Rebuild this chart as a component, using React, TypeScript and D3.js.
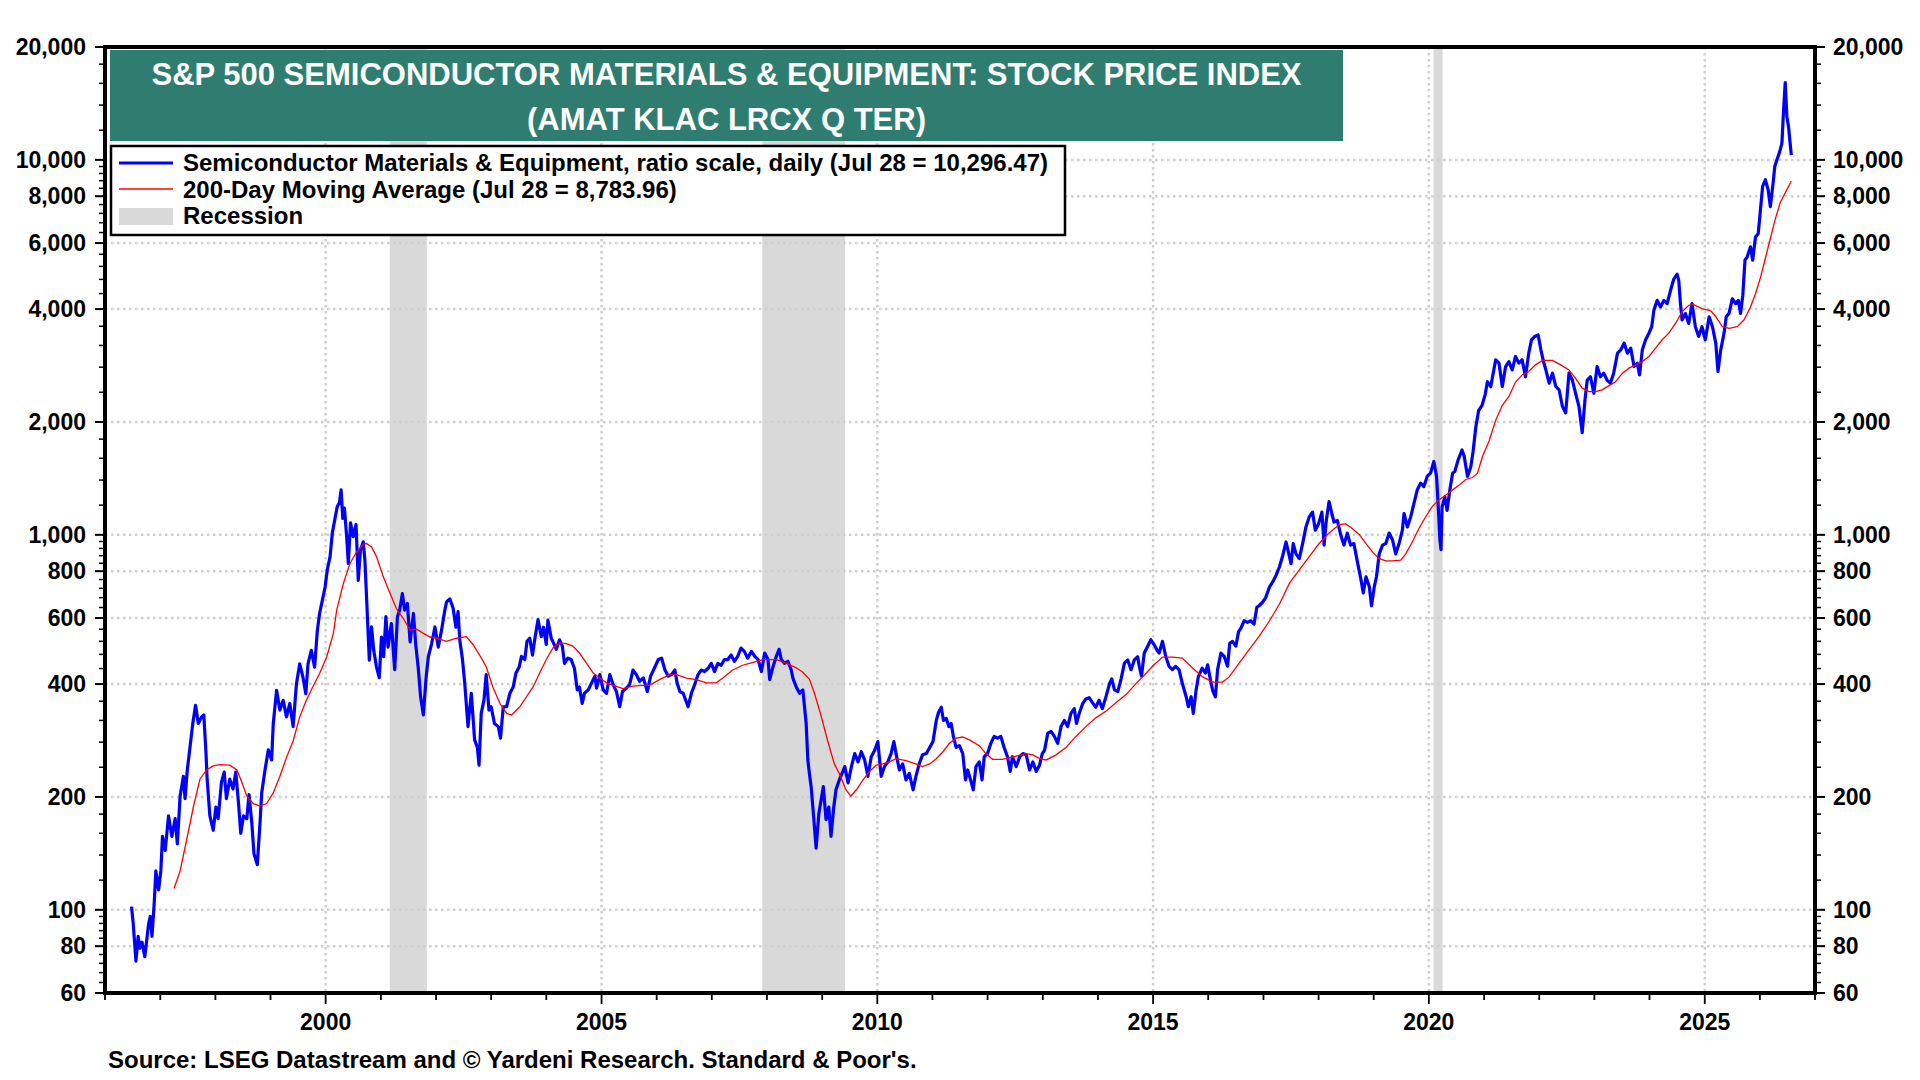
import * as d3 from "d3";

// S&P 500 Semiconductor Materials & Equipment, daily index [decimal year, value]
const priceSeries: [number, number][] = [
  [1996.48, 102], [1996.51, 92], [1996.56, 73], [1996.6, 85], [1996.63, 79], [1996.67, 82], [1996.72, 75],
  [1996.79, 92], [1996.82, 96], [1996.85, 85], [1996.89, 104], [1996.92, 127], [1996.97, 113], [1997.01, 127],
  [1997.04, 157], [1997.09, 144], [1997.15, 178], [1997.21, 157], [1997.27, 175], [1997.31, 150], [1997.36, 201],
  [1997.42, 227], [1997.45, 198], [1997.49, 236], [1997.54, 272], [1997.59, 314], [1997.64, 351], [1997.69, 314],
  [1997.75, 327], [1997.79, 331], [1997.83, 261], [1997.85, 223], [1997.9, 178], [1997.96, 163], [1998.01, 188],
  [1998.05, 175], [1998.11, 219], [1998.16, 233], [1998.2, 198], [1998.26, 223], [1998.32, 210], [1998.37, 233],
  [1998.42, 192], [1998.46, 160], [1998.51, 178], [1998.57, 175], [1998.61, 203], [1998.66, 171], [1998.7, 141],
  [1998.76, 132], [1998.81, 171], [1998.84, 205], [1998.9, 236], [1998.96, 267], [1999.02, 251], [1999.05, 314],
  [1999.11, 385], [1999.17, 341], [1999.23, 362], [1999.29, 327], [1999.35, 355], [1999.41, 308], [1999.47, 400],
  [1999.53, 453], [1999.59, 416], [1999.64, 377], [1999.68, 453], [1999.74, 492], [1999.8, 444], [1999.85, 557],
  [1999.89, 617], [1999.94, 669], [1999.99, 726], [2000.03, 807], [2000.08, 875], [2000.12, 1010], [2000.17, 1107],
  [2000.21, 1189], [2000.25, 1220], [2000.28, 1318], [2000.31, 1107], [2000.34, 1178], [2000.38, 989], [2000.41, 839],
  [2000.45, 1077], [2000.5, 989], [2000.55, 1066], [2000.59, 756], [2000.63, 910], [2000.68, 958], [2000.71, 856],
  [2000.74, 682], [2000.79, 463], [2000.83, 568], [2000.87, 492], [2000.92, 444], [2000.97, 416], [2001.01, 534],
  [2001.05, 473], [2001.09, 605], [2001.13, 502], [2001.19, 580], [2001.25, 437], [2001.3, 605], [2001.34, 630],
  [2001.39, 697], [2001.43, 630], [2001.48, 656], [2001.53, 518], [2001.59, 617], [2001.63, 513], [2001.68, 437],
  [2001.72, 370], [2001.77, 331], [2001.82, 416], [2001.86, 473], [2001.92, 513], [2001.98, 568], [2002.04, 502],
  [2002.1, 557], [2002.16, 630], [2002.19, 662], [2002.25, 675], [2002.31, 637], [2002.36, 567], [2002.4, 624],
  [2002.43, 525], [2002.48, 465], [2002.52, 403], [2002.58, 308], [2002.64, 378], [2002.7, 284], [2002.75, 271],
  [2002.78, 243], [2002.82, 334], [2002.87, 363], [2002.91, 424], [2002.96, 341], [2003.0, 348], [2003.06, 314],
  [2003.13, 308], [2003.17, 287], [2003.22, 348], [2003.28, 348], [2003.34, 378], [2003.4, 393], [2003.45, 428],
  [2003.51, 445], [2003.55, 474], [2003.61, 465], [2003.65, 520], [2003.7, 530], [2003.75, 478], [2003.79, 525],
  [2003.85, 594], [2003.91, 535], [2003.95, 567], [2004.0, 510], [2004.03, 592], [2004.09, 530], [2004.13, 515],
  [2004.18, 495], [2004.24, 525], [2004.29, 505], [2004.33, 454], [2004.39, 469], [2004.45, 465], [2004.51, 440],
  [2004.56, 386], [2004.6, 393], [2004.65, 355], [2004.69, 378], [2004.76, 386], [2004.82, 403], [2004.88, 420],
  [2004.91, 390], [2004.97, 424], [2005.03, 386], [2005.09, 378], [2005.15, 424], [2005.21, 399], [2005.27, 382],
  [2005.33, 348], [2005.38, 382], [2005.45, 390], [2005.51, 399], [2005.57, 436], [2005.63, 424], [2005.69, 407],
  [2005.76, 415], [2005.83, 382], [2005.89, 420], [2005.97, 445], [2006.03, 465], [2006.09, 469], [2006.15, 436],
  [2006.21, 420], [2006.27, 424], [2006.33, 436], [2006.37, 403], [2006.42, 382], [2006.48, 378], [2006.57, 348],
  [2006.63, 378], [2006.69, 399], [2006.75, 424], [2006.81, 436], [2006.87, 432], [2006.93, 440], [2006.99, 454],
  [2007.05, 432], [2007.11, 454], [2007.17, 449], [2007.23, 465], [2007.29, 465], [2007.35, 478], [2007.41, 460],
  [2007.47, 474], [2007.53, 499], [2007.59, 489], [2007.65, 469], [2007.72, 489], [2007.78, 474], [2007.84, 465],
  [2007.9, 432], [2007.96, 484], [2008.02, 465], [2008.05, 411], [2008.11, 445], [2008.17, 474], [2008.22, 495],
  [2008.26, 465], [2008.32, 454], [2008.38, 460], [2008.44, 436], [2008.47, 415], [2008.53, 393], [2008.59, 378],
  [2008.65, 386], [2008.71, 314], [2008.74, 251], [2008.77, 230], [2008.8, 213], [2008.84, 181], [2008.89, 146],
  [2008.94, 181], [2008.98, 196], [2009.02, 213], [2009.07, 174], [2009.12, 188], [2009.16, 157], [2009.21, 188],
  [2009.25, 209], [2009.31, 222], [2009.36, 231], [2009.41, 241], [2009.47, 218], [2009.53, 241], [2009.59, 261],
  [2009.65, 248], [2009.71, 264], [2009.77, 251], [2009.83, 227], [2009.89, 256], [2009.95, 266], [2010.01, 281],
  [2010.07, 227], [2010.13, 241], [2010.19, 248], [2010.25, 261], [2010.3, 281], [2010.34, 261], [2010.4, 236],
  [2010.46, 245], [2010.52, 222], [2010.58, 231], [2010.65, 209], [2010.7, 227], [2010.76, 245], [2010.82, 259],
  [2010.89, 261], [2010.95, 271], [2011.01, 281], [2011.07, 320], [2011.11, 336], [2011.16, 347], [2011.2, 320],
  [2011.25, 324], [2011.3, 308], [2011.34, 314], [2011.38, 290], [2011.43, 271], [2011.49, 274], [2011.55, 261],
  [2011.6, 222], [2011.64, 236], [2011.7, 220], [2011.74, 209], [2011.79, 241], [2011.85, 248], [2011.9, 222],
  [2011.94, 256], [2012.0, 261], [2012.06, 278], [2012.12, 290], [2012.18, 287], [2012.24, 290], [2012.3, 271],
  [2012.36, 256], [2012.41, 234], [2012.45, 256], [2012.52, 241], [2012.58, 256], [2012.64, 261], [2012.7, 259],
  [2012.76, 236], [2012.82, 248], [2012.88, 234], [2012.94, 243], [2012.99, 261], [2013.03, 266], [2013.09, 296],
  [2013.15, 299], [2013.21, 290], [2013.27, 278], [2013.33, 308], [2013.39, 320], [2013.45, 308], [2013.51, 334],
  [2013.57, 344], [2013.61, 314], [2013.66, 334], [2013.72, 354], [2013.78, 365], [2013.84, 368], [2013.9, 357],
  [2013.96, 347], [2014.02, 362], [2014.08, 344], [2014.15, 372], [2014.21, 401], [2014.25, 413], [2014.3, 386],
  [2014.36, 382], [2014.42, 413], [2014.48, 455], [2014.54, 464], [2014.6, 437], [2014.66, 464], [2014.72, 473],
  [2014.75, 446], [2014.79, 420], [2014.84, 484], [2014.9, 504], [2014.96, 525], [2015.02, 509], [2015.08, 490],
  [2015.11, 484], [2015.17, 520], [2015.23, 474], [2015.29, 446], [2015.35, 437], [2015.41, 446], [2015.47, 437],
  [2015.53, 402], [2015.6, 370], [2015.64, 348], [2015.69, 370], [2015.73, 334], [2015.78, 385], [2015.82, 418],
  [2015.89, 441], [2015.95, 428], [2015.99, 450], [2016.03, 418], [2016.08, 385], [2016.13, 370], [2016.17, 437],
  [2016.23, 484], [2016.29, 474], [2016.35, 446], [2016.39, 514], [2016.44, 520], [2016.5, 505], [2016.55, 552],
  [2016.59, 563], [2016.65, 590], [2016.71, 584], [2016.77, 590], [2016.83, 578], [2016.88, 641], [2016.92, 647],
  [2016.98, 660], [2017.04, 680], [2017.11, 727], [2017.17, 750], [2017.23, 781], [2017.29, 822], [2017.35, 881],
  [2017.41, 957], [2017.46, 890], [2017.5, 838], [2017.54, 948], [2017.59, 890], [2017.65, 864], [2017.71, 948],
  [2017.77, 1050], [2017.83, 1116], [2017.89, 1150], [2017.94, 1029], [2018.0, 1071], [2018.06, 1150], [2018.1, 939],
  [2018.14, 1093], [2018.19, 1226], [2018.24, 1140], [2018.28, 1082], [2018.34, 1093], [2018.4, 1001], [2018.46, 939],
  [2018.52, 1011], [2018.58, 939], [2018.64, 948], [2018.71, 838], [2018.77, 758], [2018.81, 700], [2018.86, 773],
  [2018.92, 727], [2018.96, 647], [2019.01, 727], [2019.05, 773], [2019.1, 890], [2019.16, 939], [2019.22, 948],
  [2019.28, 1011], [2019.34, 970], [2019.4, 890], [2019.46, 948], [2019.52, 1029], [2019.55, 1140], [2019.61, 1050],
  [2019.67, 1116], [2019.73, 1213], [2019.79, 1318], [2019.85, 1373], [2019.91, 1345], [2019.97, 1431], [2020.03, 1460],
  [2020.09, 1569], [2020.14, 1431], [2020.17, 1189], [2020.2, 970], [2020.22, 913], [2020.24, 1189], [2020.29, 1263],
  [2020.33, 1162], [2020.38, 1318], [2020.43, 1460], [2020.47, 1475], [2020.53, 1585], [2020.6, 1684], [2020.64, 1617],
  [2020.7, 1431], [2020.76, 1522], [2020.8, 1667], [2020.85, 1939], [2020.9, 2143], [2020.96, 2210], [2021.02, 2370],
  [2021.06, 2561], [2021.12, 2483], [2021.21, 2930], [2021.27, 2870], [2021.33, 2487], [2021.39, 2811], [2021.45, 2898],
  [2021.51, 2754], [2021.57, 2990], [2021.63, 2870], [2021.69, 2930], [2021.75, 2640], [2021.81, 3052], [2021.86, 3313],
  [2021.92, 3381], [2021.98, 3415], [2022.03, 3115], [2022.07, 2930], [2022.12, 2754], [2022.18, 2538], [2022.24, 2699],
  [2022.3, 2487], [2022.36, 2437], [2022.42, 2202], [2022.48, 2114], [2022.54, 2699], [2022.6, 2587], [2022.66, 2385],
  [2022.72, 2202], [2022.78, 1872], [2022.83, 2292], [2022.87, 2587], [2022.93, 2640], [2022.99, 2385], [2023.05, 2811],
  [2023.11, 2640], [2023.17, 2699], [2023.23, 2587], [2023.29, 2538], [2023.35, 2699], [2023.42, 3052], [2023.48, 3115],
  [2023.54, 3246], [2023.6, 3052], [2023.66, 3147], [2023.72, 2811], [2023.78, 2870], [2023.82, 2670], [2023.87, 3115],
  [2023.93, 3313], [2023.99, 3450], [2024.04, 3589], [2024.08, 3975], [2024.14, 4220], [2024.2, 4053], [2024.26, 4220],
  [2024.32, 4137], [2024.38, 4483], [2024.44, 4811], [2024.5, 4960], [2024.53, 4764], [2024.56, 4137], [2024.59, 3741],
  [2024.65, 3896], [2024.71, 3662], [2024.77, 4137], [2024.83, 3589], [2024.89, 3381], [2024.95, 3589], [2025.01, 3313],
  [2025.08, 3816], [2025.14, 3589], [2025.2, 3246], [2025.24, 2726], [2025.29, 3115], [2025.35, 3450], [2025.39, 3816],
  [2025.44, 3896], [2025.5, 4262], [2025.56, 4137], [2025.61, 4220], [2025.65, 3896], [2025.69, 4350], [2025.73, 5403],
  [2025.77, 5515], [2025.83, 5863], [2025.87, 5403], [2025.92, 6230], [2025.97, 6358], [2026.01, 7353], [2026.05, 8495],
  [2026.1, 8850], [2026.15, 8320], [2026.19, 7505], [2026.24, 8670], [2026.27, 9600], [2026.31, 10003], [2026.36, 10520],
  [2026.4, 11080], [2026.43, 13590], [2026.46, 16070], [2026.49, 13040], [2026.52, 12250], [2026.57, 10296.47],
];

// 200-day moving average [decimal year, value]
const maSeries: [number, number][] = [
  [1997.25, 114], [1997.36, 127], [1997.48, 154], [1997.6, 188], [1997.72, 223], [1997.84, 236], [1997.96, 242],
  [1998.08, 244], [1998.26, 243], [1998.39, 236], [1998.48, 219], [1998.57, 201], [1998.69, 192], [1998.81, 189],
  [1998.93, 192], [1999.05, 205], [1999.17, 227], [1999.29, 255], [1999.41, 282], [1999.53, 327], [1999.65, 362],
  [1999.77, 394], [1999.89, 427], [2000.02, 473], [2000.14, 546], [2000.2, 630], [2000.32, 741], [2000.44, 839],
  [2000.56, 900], [2000.68, 944], [2000.74, 948], [2000.83, 929], [2000.92, 875], [2001.04, 775], [2001.16, 702],
  [2001.28, 636], [2001.4, 600], [2001.53, 557], [2001.65, 560], [2001.77, 546], [2001.89, 534], [2002.01, 530],
  [2002.19, 520], [2002.37, 530], [2002.55, 535], [2002.67, 510], [2002.79, 478], [2002.91, 445], [2003.03, 393],
  [2003.16, 355], [2003.28, 334], [2003.37, 331], [2003.52, 348], [2003.64, 370], [2003.76, 393], [2003.88, 428],
  [2004.0, 465], [2004.12, 499], [2004.24, 515], [2004.36, 513], [2004.48, 505], [2004.6, 484], [2004.73, 454],
  [2004.85, 428], [2004.97, 415], [2005.09, 403], [2005.21, 397], [2005.39, 389], [2005.57, 395], [2005.75, 397],
  [2005.87, 397], [2006.05, 411], [2006.24, 424], [2006.36, 424], [2006.54, 415], [2006.72, 411], [2006.9, 403],
  [2007.08, 403], [2007.2, 415], [2007.38, 436], [2007.56, 449], [2007.75, 457], [2007.93, 465], [2008.05, 465],
  [2008.17, 465], [2008.35, 455], [2008.53, 442], [2008.65, 430], [2008.77, 412], [2008.86, 378], [2008.98, 329],
  [2009.1, 282], [2009.22, 245], [2009.31, 231], [2009.43, 209], [2009.52, 201], [2009.62, 209], [2009.74, 222],
  [2009.86, 234], [2009.98, 243], [2010.1, 245], [2010.22, 248], [2010.34, 253], [2010.52, 250], [2010.7, 245],
  [2010.82, 241], [2010.95, 245], [2011.07, 253], [2011.19, 264], [2011.31, 278], [2011.43, 287], [2011.55, 289],
  [2011.67, 284], [2011.85, 274], [2011.97, 261], [2012.09, 252], [2012.27, 252], [2012.52, 257], [2012.7, 261],
  [2012.82, 259], [2012.94, 253], [2013.06, 251], [2013.24, 259], [2013.42, 271], [2013.6, 290], [2013.78, 308],
  [2013.96, 325], [2014.15, 339], [2014.33, 357], [2014.51, 375], [2014.69, 401], [2014.87, 427], [2014.99, 446],
  [2015.17, 472], [2015.35, 472], [2015.53, 469], [2015.72, 441], [2015.9, 418], [2016.08, 405], [2016.26, 405],
  [2016.38, 418], [2016.56, 455], [2016.74, 494], [2016.92, 536], [2017.11, 590], [2017.29, 654], [2017.47, 742],
  [2017.65, 806], [2017.83, 875], [2018.01, 948], [2018.19, 1011], [2018.37, 1064], [2018.49, 1071], [2018.61, 1040],
  [2018.74, 1001], [2018.86, 948], [2018.98, 899], [2019.1, 864], [2019.22, 852], [2019.34, 852], [2019.49, 856],
  [2019.58, 890], [2019.7, 957], [2019.82, 1040], [2019.94, 1116], [2020.06, 1189], [2020.18, 1238], [2020.31, 1277],
  [2020.43, 1318], [2020.55, 1358], [2020.67, 1405], [2020.79, 1422], [2020.88, 1460], [2020.97, 1617], [2021.09, 1780],
  [2021.21, 2020], [2021.33, 2215], [2021.45, 2340], [2021.57, 2556], [2021.69, 2670], [2021.81, 2726], [2021.93, 2840],
  [2022.06, 2918], [2022.24, 2918], [2022.39, 2840], [2022.54, 2754], [2022.66, 2615], [2022.78, 2462], [2022.9, 2411],
  [2023.02, 2411], [2023.14, 2437], [2023.26, 2497], [2023.38, 2556], [2023.51, 2699], [2023.63, 2783], [2023.75, 2840],
  [2023.87, 2898], [2023.99, 2990], [2024.11, 3147], [2024.23, 3313], [2024.35, 3450], [2024.47, 3662], [2024.59, 3933],
  [2024.71, 4095], [2024.8, 4110], [2024.95, 4012], [2025.11, 3955], [2025.2, 3816], [2025.32, 3589], [2025.44, 3553],
  [2025.59, 3589], [2025.71, 3741], [2025.83, 4053], [2025.92, 4394], [2026.01, 4853], [2026.1, 5466], [2026.19, 6170],
  [2026.28, 6963], [2026.37, 7694], [2026.46, 8165], [2026.57, 8783.96],
];

const recessions: [string, string][] = [
  ["2001-03-01", "2001-11-01"],
  ["2007-12-01", "2009-06-01"],
  ["2020-02-01", "2020-04-01"],
];

const yLabels = [60, 80, 100, 200, 400, 600, 800, 1000, 2000, 4000, 6000, 8000, 10000, 20000];
const xLabelYears = [2000, 2005, 2010, 2015, 2020, 2025];

const titleLines = [
  "S&P 500 SEMICONDUCTOR MATERIALS & EQUIPMENT: STOCK PRICE INDEX",
  "(AMAT KLAC LRCX Q TER)",
];
const legendItems = [
  "Semiconductor Materials & Equipment, ratio scale, daily (Jul 28 = 10,296.47)",
  "200-Day Moving Average (Jul 28 = 8,783.96)",
  "Recession",
];
const sourceText = "Source: LSEG Datastream and \u00a9 Yardeni Research. Standard & Poor's.";

const W = 1920;
const H = 1080;
const left = 105;
const right = 1815;
const top = 47;
const bottom = 993;
const FONT = "'Liberation Sans', Arial, Helvetica, sans-serif";

function yearToDate(y: number) {
  const yr = Math.floor(y);
  const a = Date.UTC(yr, 0, 1);
  const b = Date.UTC(yr + 1, 0, 1);
  return new Date(a + (y - yr) * (b - a));
}

export default function App() {
  const x = d3.scaleUtc().domain([new Date(Date.UTC(1996, 0, 1)), new Date(Date.UTC(2027, 0, 1))]).range([left, right]);
  const y = d3.scaleLog().domain([60, 20000]).range([bottom, top]);

  const line = d3
    .line<[number, number]>()
    .x((d) => x(yearToDate(d[0])))
    .y((d) => y(d[1]));

  // minor ticks: 4 between each pair of labelled values
  const minorY: number[] = [];
  for (let i = 0; i < yLabels.length - 1; i++) {
    const a = yLabels[i];
    const b = yLabels[i + 1];
    for (let k = 1; k < 5; k++) minorY.push(a + ((b - a) * k) / 5);
  }
  const yearTicks = d3.utcYear.range(new Date(Date.UTC(1996, 0, 1)), new Date(Date.UTC(2027, 0, 2)));

  const grid = { stroke: "#cfcfcf", strokeWidth: 2.5, strokeDasharray: "2.5 3.5" };

  return (
    <svg width={W} height={H} style={{ position: "absolute", left: 0, top: 0, background: "#fff" }} fontFamily={FONT}>
      <rect x={0} y={0} width={W} height={H} fill="#fff" />

      {recessions.map(([s, e]) => {
        const x0 = x(new Date(s + "T00:00:00Z"));
        const x1 = x(new Date(e + "T00:00:00Z"));
        return <rect key={s} x={x0} y={top} width={x1 - x0} height={bottom - top} fill="#d9d9d9" />;
      })}

      {yLabels.slice(1, -1).map((v) => (
        <line key={"gy" + v} x1={left} x2={right} y1={y(v)} y2={y(v)} {...grid} />
      ))}
      {xLabelYears.map((yr) => {
        const px = x(new Date(Date.UTC(yr, 0, 1)));
        return <line key={"gx" + yr} x1={px} x2={px} y1={top} y2={bottom} {...grid} />;
      })}

      <path d={line(priceSeries) ?? ""} fill="none" stroke="#0000ff" strokeWidth={3.2} strokeLinejoin="round" />
      <path d={line(maSeries) ?? ""} fill="none" stroke="#ff0000" strokeWidth={1.3} />

      <rect x={left} y={top} width={right - left} height={bottom - top} fill="none" stroke="#000" strokeWidth={4} />

      {/* title */}
      <rect x={110} y={50} width={1233} height={91} fill="#2e7d70" />
      {titleLines.map((t, i) => (
        <text key={t} x={726.5} y={85 + i * 45} textAnchor="middle" fill="#fff" fontWeight="bold" fontSize={31}>
          {t}
        </text>
      ))}

      {/* legend */}
      <rect x={111} y={146} width={954} height={89} fill="#fff" stroke="#000" strokeWidth={2.5} />
      <line x1={119} x2={173} y1={163} y2={163} stroke="#0000ff" strokeWidth={3} />
      <line x1={119} x2={173} y1={189} y2={189} stroke="#ff0000" strokeWidth={1.3} />
      <rect x={119} y={208} width={54} height={17} fill="#d9d9d9" />
      {legendItems.map((t, i) => (
        <text key={t} x={183} y={171 + i * 26.5} fontWeight="bold" fontSize={24} fill="#000">
          {t}
        </text>
      ))}

      {/* y axes */}
      {yLabels.map((v) => (
        <g key={"ty" + v}>
          <line x1={left - 10} x2={left} y1={y(v)} y2={y(v)} stroke="#000" strokeWidth={2} />
          <line x1={right} x2={right + 10} y1={y(v)} y2={y(v)} stroke="#000" strokeWidth={2} />
          <text x={86} y={y(v)} dy="0.36em" textAnchor="end" fontWeight="bold" fontSize={23}>
            {d3.format(",")(v)}
          </text>
          <text x={1833} y={y(v)} dy="0.36em" textAnchor="start" fontWeight="bold" fontSize={23}>
            {d3.format(",")(v)}
          </text>
        </g>
      ))}
      {minorY.map((v) => (
        <g key={"my" + v}>
          <line x1={left - 6} x2={left} y1={y(v)} y2={y(v)} stroke="#000" strokeWidth={1.5} />
          <line x1={right} x2={right + 6} y1={y(v)} y2={y(v)} stroke="#000" strokeWidth={1.5} />
        </g>
      ))}

      {/* x axis */}
      {yearTicks.map((d) => {
        const major = d.getUTCFullYear() % 5 === 0;
        return (
          <line key={"tx" + d.getUTCFullYear()} x1={x(d)} x2={x(d)} y1={bottom} y2={bottom + (major ? 11 : 7)} stroke="#000" strokeWidth={1.8} />
        );
      })}
      {xLabelYears.map((yr) => (
        <text key={"lx" + yr} x={x(new Date(Date.UTC(yr, 0, 1)))} y={1029.5} textAnchor="middle" fontWeight="bold" fontSize={23}>
          {yr}
        </text>
      ))}

      <text x={108} y={1068} fontWeight="bold" fontSize={24}>
        {sourceText}
      </text>
    </svg>
  );
}
